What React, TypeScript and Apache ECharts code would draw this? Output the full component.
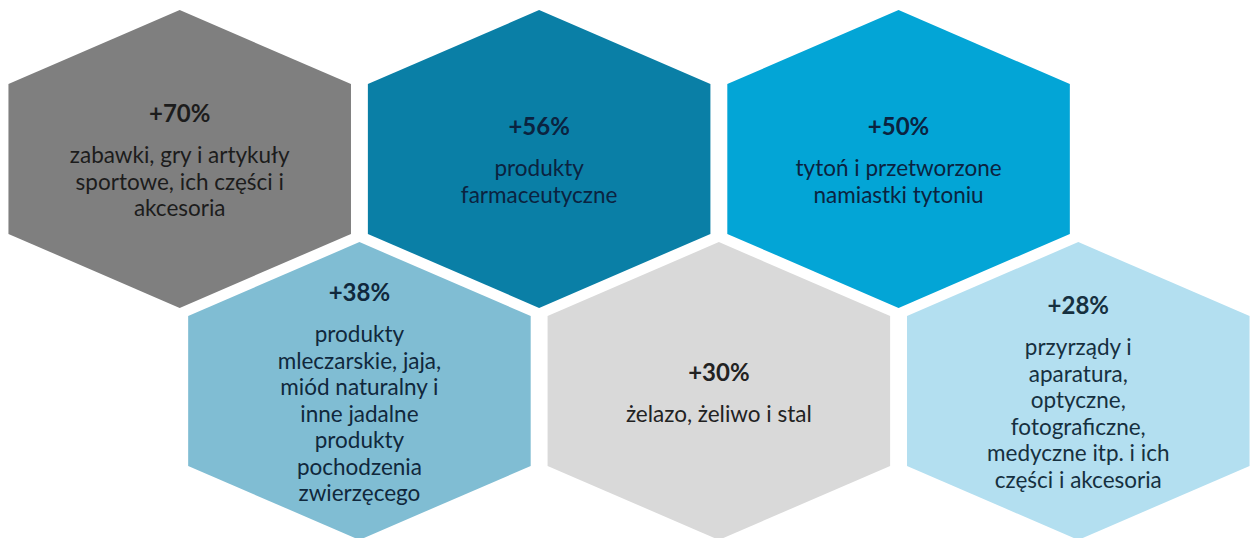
import React, { useEffect, useRef } from "react";
import * as echarts from "echarts";

// Percent change per product group
const changes: number[] = [70, 56, 50, 38, 30, 28];
// Product groups (line breaks as in the original)
const categories: string[] = [
  "zabawki, gry i artykuły\nsportowe, ich części i\nakcesoria",
  "produkty\nfarmaceutyczne",
  "tytoń i przetworzone\nnamiastki tytoniu",
  "produkty\nmleczarskie, jaja,\nmiód naturalny i\ninne jadalne\nprodukty\npochodzenia\nzwierzęcego",
  "żelazo, żeliwo i stal",
  "przyrządy i\naparatura,\noptyczne,\nfotograficzne,\nmedyczne itp. i ich\nczęści i akcesoria",
];
// Honeycomb cell positions (column, row)
const cellCols: number[] = [0.5, 1.5, 2.5, 1, 2, 3];
const cellRows: number[] = [0, 0, 0, 1, 1, 1];

const fillColors = ["#7f7f7f", "#0a7fa6", "#03a5d6", "#80bdd3", "#d9d9d9", "#b3dff0"];
const textColors = ["#1c1c1c", "#0b2340", "#0b2340", "#10283c", "#222222", "#16303f"];

export default function App() {
  const ref = useRef<HTMLDivElement>(null);

  useEffect(() => {
    if (!ref.current) return;
    const chart = echarts.init(ref.current, undefined, { renderer: "svg" });

    const data = changes.map((v, i) => [cellCols[i], cellRows[i], i, v]);

    const hw = 0.4765;
    const hh = 0.642;
    const sh = 0.323;
    const lineH = 26.5;

    const option: any = {
      animation: false,
      backgroundColor: "#ffffff",
      grid: { left: 0, top: 43, width: 1267, height: 464 },
      xAxis: { type: "value", min: 0, max: 3.5, show: false },
      yAxis: { type: "value", min: -0.5, max: 1.5, inverse: true, show: false },
      series: [
        {
          type: "custom",
          clip: false,
          encode: { x: 0, y: 1 },
          data,
          renderItem: (params: any, api: any) => {
            const cx = api.value(0) as number;
            const cy = api.value(1) as number;
            const i = api.value(2) as number;
            const v = api.value(3) as number;
            const pts = [
              [cx, cy - hh],
              [cx + hw, cy - sh],
              [cx + hw, cy + sh],
              [cx, cy + hh],
              [cx - hw, cy + sh],
              [cx - hw, cy - sh],
            ].map((p) => api.coord(p));
            const c = api.coord([cx, cy]);
            const lines = categories[i].split("\n").length;
            const bodyCenter = c[1] + 22;
            const firstLine = bodyCenter - ((lines - 1) * lineH) / 2;
            const titleY = firstLine - 42;
            return {
              type: "group",
              children: [
                {
                  type: "polygon",
                  shape: { points: pts },
                  style: { fill: fillColors[i], stroke: null },
                },
                {
                  type: "text",
                  style: {
                    text: "+" + v + "%",
                    x: c[0],
                    y: titleY,
                    align: "center",
                    verticalAlign: "middle",
                    fontFamily: "Lato",
                    fontWeight: "bold",
                    fontSize: 24,
                    fill: textColors[i],
                  },
                },
                {
                  type: "text",
                  style: {
                    text: categories[i],
                    x: c[0],
                    y: bodyCenter,
                    align: "center",
                    verticalAlign: "middle",
                    fontFamily: "Lato",
                    fontSize: 22.5,
                    lineHeight: lineH,
                    fill: textColors[i],
                  },
                },
              ],
            };
          },
        },
      ],
    };
    chart.setOption(option);
    return () => chart.dispose();
  }, []);

  return (
    <div
      ref={ref}
      style={{ position: "fixed", left: 0, top: 0, width: 1258, height: 538, background: "#fff" }}
    />
  );
}
